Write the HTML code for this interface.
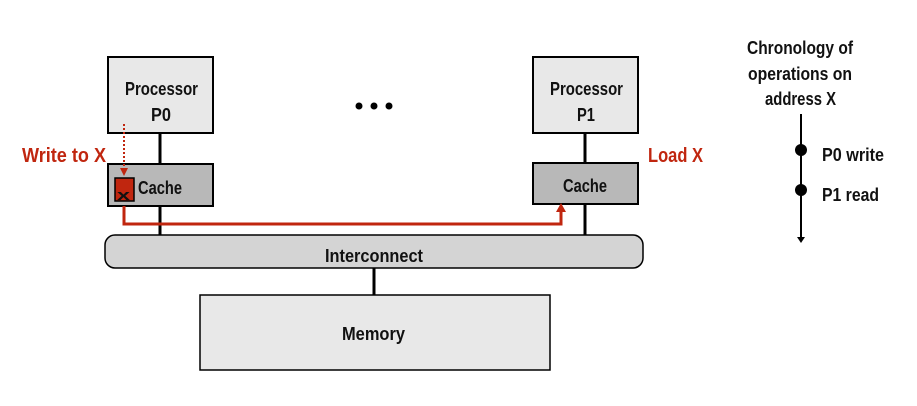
<!DOCTYPE html>
<html><head><meta charset="utf-8"><style>
body{margin:0;background:#fff}
svg text{font-family:"Liberation Sans",sans-serif;font-weight:bold}
</style></head><body>
<svg width="917" height="401" viewBox="0 0 917 401" xmlns="http://www.w3.org/2000/svg">
<g stroke="#000" stroke-width="3">
<line x1="160" y1="133" x2="160" y2="236"/>
<line x1="585" y1="133" x2="585" y2="236"/>
<line x1="374" y1="268" x2="374" y2="296"/>
</g>
<rect x="108" y="57" width="105" height="76" fill="#e8e8e8" stroke="#000" stroke-width="2"/>
<rect x="533" y="57" width="105" height="76" fill="#e8e8e8" stroke="#000" stroke-width="2"/>
<rect x="108" y="164" width="105" height="42" fill="#b8b8b8" stroke="#000" stroke-width="2"/>
<rect x="533" y="163" width="105" height="41" fill="#b8b8b8" stroke="#000" stroke-width="2"/>
<rect x="105" y="235" width="538" height="33" rx="10" fill="#d4d4d4" stroke="#000" stroke-width="1.5"/>
<rect x="200" y="295" width="350" height="75" fill="#e8e8e8" stroke="#000" stroke-width="1.5"/>
<rect x="115" y="178" width="19" height="23" fill="#c0260f" stroke="#000" stroke-width="1.5"/>
<polyline points="124,206 124,224 561,224 561,210" fill="none" stroke="#c0260f" stroke-width="3"/>
<polygon points="556,212 566,212 561,203" fill="#c0260f"/>
<line x1="124" y1="124" x2="124" y2="170" stroke="#c0260f" stroke-width="2" stroke-dasharray="2,2"/>
<polygon points="120,168 128,168 124,176" fill="#c0260f"/>
<g font-size="18" fill="#111" lengthAdjust="spacingAndGlyphs">
<text x="125" y="95" textLength="73" lengthAdjust="spacingAndGlyphs">Processor</text>
<text x="151" y="121" textLength="20" lengthAdjust="spacingAndGlyphs">P0</text>
<text x="550" y="95" textLength="73" lengthAdjust="spacingAndGlyphs">Processor</text>
<text x="577" y="121" textLength="18" lengthAdjust="spacingAndGlyphs">P1</text>
<text x="563" y="192" textLength="44" lengthAdjust="spacingAndGlyphs">Cache</text>
<text x="138" y="194" textLength="44" lengthAdjust="spacingAndGlyphs">Cache</text>
<text x="325" y="262" textLength="98" lengthAdjust="spacingAndGlyphs">Interconnect</text>
<text x="342" y="340" textLength="63" lengthAdjust="spacingAndGlyphs">Memory</text>
<text x="747" y="54" textLength="106" lengthAdjust="spacingAndGlyphs">Chronology of</text>
<text x="748" y="80" textLength="104" lengthAdjust="spacingAndGlyphs">operations on</text>
<text x="765" y="105" textLength="71" lengthAdjust="spacingAndGlyphs">address X</text>
<text x="822" y="161" textLength="62" lengthAdjust="spacingAndGlyphs">P0 write</text>
<text x="822" y="201" textLength="57" lengthAdjust="spacingAndGlyphs">P1 read</text>
</g>
<text x="117" y="200" font-size="15" textLength="13" lengthAdjust="spacingAndGlyphs" fill="#111">x</text>
<text x="22" y="162" font-size="20" fill="#c0260f" textLength="84" lengthAdjust="spacingAndGlyphs">Write to X</text>
<text x="648" y="162" font-size="20" fill="#c0260f" textLength="55" lengthAdjust="spacingAndGlyphs">Load X</text>
<g fill="#000"><circle cx="359" cy="106" r="3.5"/><circle cx="374" cy="106" r="3.5"/><circle cx="389" cy="106" r="3.5"/></g>
<line x1="801" y1="114" x2="801" y2="238" stroke="#000" stroke-width="2"/>
<polygon points="797,237 805,237 801,243" fill="#000"/>
<circle cx="801" cy="150" r="6" fill="#000"/>
<circle cx="801" cy="190" r="6" fill="#000"/>
</svg>
</body></html>
